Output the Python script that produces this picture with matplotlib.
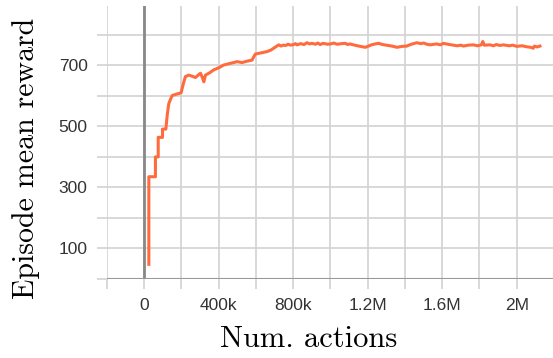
import matplotlib
matplotlib.use("Agg")
import matplotlib.pyplot as plt

# episode mean reward vs. number of actions taken
actions = [24.7e3, 24.7e3, 60e3, 60e3, 75e3, 75e3, 98e3, 98e3, 116e3, 124e3,
           132e3, 142e3, 150e3, 170e3, 198e3, 210e3, 221e3, 239e3, 258e3, 275e3,
           290e3, 302e3, 312e3, 320e3, 329e3, 350e3, 373e3, 400e3, 427e3, 460e3,
           499e3, 525e3, 555e3, 579e3, 590e3, 597e3, 630e3, 660e3, 680e3, 700e3,
           722e3, 735e3, 745e3, 760e3, 772e3, 785e3, 802e3, 812e3, 820e3, 840e3,
           858e3, 874e3, 888e3, 900e3, 920e3, 932e3, 945e3, 960e3, 985e3, 1000e3,
           1018e3, 1035e3, 1060e3, 1080e3, 1092e3, 1105e3, 1130e3, 1160e3, 1187e3, 1200e3,
           1220e3, 1240e3, 1258e3, 1280e3, 1300e3, 1330e3, 1357e3, 1385e3, 1410e3, 1425e3,
           1440e3, 1464e3, 1485e3, 1500e3, 1518e3, 1535e3, 1570e3, 1590e3, 1607e3, 1630e3,
           1650e3, 1680e3, 1700e3, 1714e3, 1740e3, 1767e3, 1790e3, 1810e3, 1818e3, 1826e3,
           1857e3, 1875e3, 1890e3, 1910e3, 1928e3, 1960e3, 1980e3, 2000e3, 2030e3, 2050e3,
           2075e3, 2089e3, 2095e3, 2110e3, 2125e3]
reward = [48, 335, 335, 400, 400, 464, 464, 491, 491, 540,
          575, 590, 601, 605, 610, 640, 663, 668, 664, 660,
          668, 674, 660, 646, 668, 675, 685, 692, 701, 706,
          712, 709, 714, 717, 730, 737, 741, 745, 750, 758,
          767, 763, 766, 765, 769, 766, 768, 771, 767, 771,
          768, 774, 770, 772, 769, 773, 768, 772, 769, 770,
          773, 769, 771, 772, 768, 770, 766, 762, 759, 762,
          767, 770, 772, 768, 766, 763, 759, 762, 763, 767,
          770, 774, 771, 773, 769, 767, 770, 767, 772, 769,
          767, 764, 766, 763, 766, 767, 764, 767, 778, 766,
          767, 764, 768, 765, 767, 764, 766, 762, 764, 761,
          759, 756, 763, 760, 763]

x_ticks = [-200e3, 0, 200e3, 400e3, 600e3, 800e3, 1000e3, 1200e3, 1400e3, 1600e3,
           1800e3, 2000e3]
x_labels = ["", "0", "", "400k", "", "800k", "", "1.2M", "", "1.6M", "", "2M"]
y_ticks = [0, 100, 200, 300, 400, 500, 600, 700, 800]
y_labels = ["", "100", "", "300", "", "500", "", "700", ""]

fig = plt.figure(figsize=(5.53, 3.58), dpi=100)
ax = fig.add_axes([0.1935, 0.2207, 0.8065, 0.7623])

grid_c = "#d2d2d2"
ax.set_xlim(-200e3, 2195e3)
ax.set_ylim(0, 894)
ax.set_xticks(x_ticks)
ax.set_xticklabels(x_labels)
ax.set_yticks(y_ticks)
ax.set_yticklabels(y_labels)
ax.grid(True, color=grid_c, lw=1.2)
ax.tick_params(length=7, width=1.2, color=grid_c, labelcolor="#333333",
               labelsize=12.5, pad=7)
for t in ax.get_xticklabels() + ax.get_yticklabels():
    t.set_fontfamily("Liberation Sans")
for s in ax.spines.values():
    s.set_visible(False)

# zero lines on top of the grid
ax.axvline(0, color="#888888", lw=2.0, zorder=2)
ax.axhline(0, color="#999999", lw=1.5, zorder=2)

ax.plot(actions, reward, color="#ff6b3d", lw=2.2, zorder=3)

ax.set_xlabel("Num. actions", fontname="cmr10", fontsize=22)
ax.set_ylabel("Episode mean reward", fontname="cmr10", fontsize=21.5)
ax.xaxis.set_label_coords(0.453, -0.172)
ax.yaxis.set_label_coords(-0.15, 0.44)

fig.savefig("out.png", dpi=100)
